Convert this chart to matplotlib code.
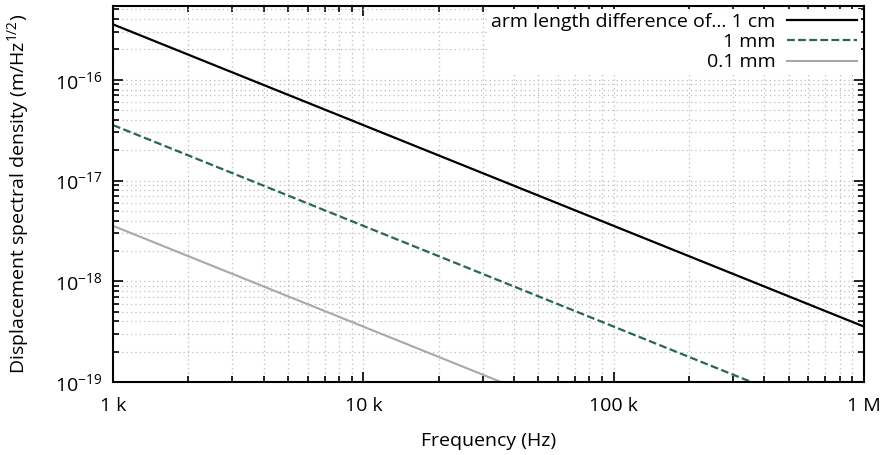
import numpy as np
import matplotlib.pyplot as plt
from matplotlib.ticker import FixedLocator, LogLocator, NullFormatter

# values (slope -1 on log-log)
freq = [1e3, 1e4, 1e5, 1e6]
asd_1cm = [3.55e-16, 3.55e-17, 3.55e-18, 3.55e-19]
asd_1mm = [3.55e-17, 3.55e-18, 3.55e-19, 3.55e-20]
asd_01mm = [3.55e-18, 3.55e-19, 3.55e-20, 3.55e-21]
labels = ["arm length difference of... 1 cm", "1 mm", "0.1 mm"]

xticks = [1e3, 1e4, 1e5, 1e6]
xticklabels = ["1 k", "10 k", "100 k", "1 M"]
yticks = [1e-19, 1e-18, 1e-17, 1e-16]

plt.rcParams['font.family'] = ['Open Sans', 'DejaVu Sans']
plt.rcParams['mathtext.fontset'] = 'custom'
plt.rcParams['mathtext.rm'] = 'Open Sans'

fs = 14
fig = plt.figure(figsize=(8.87, 4.55), dpi=100)
ax = fig.add_axes([0.1274, 0.1604, 0.8466, 0.8264])

ax.plot(freq, asd_1cm, color="black", lw=1.6, label=labels[0])
ax.plot(freq, asd_1mm, color="#2a6652", lw=1.6, ls=(0, (3.5, 1.5)), label=labels[1])
ax.plot(freq, asd_01mm, color="#a8a8a8", lw=1.5, label=labels[2])

ax.set_xscale("log")
ax.set_yscale("log")
ax.set_xlim(1e3, 1e6)
ax.set_ylim(1e-19, 5.4e-16)

ax.xaxis.set_major_locator(FixedLocator(xticks))
ax.set_xticklabels(xticklabels)
ax.yaxis.set_major_locator(FixedLocator(yticks))
ax.set_yticklabels([r"$\mathregular{10^{%d}}$" % int(np.log10(v)) for v in yticks])
ax.xaxis.set_minor_locator(LogLocator(base=10, subs=np.arange(2, 10), numticks=20))
ax.yaxis.set_minor_locator(LogLocator(base=10, subs=np.arange(2, 10), numticks=20))
ax.xaxis.set_minor_formatter(NullFormatter())
ax.yaxis.set_minor_formatter(NullFormatter())

ax.tick_params(which="both", direction="in", top=True, right=True, labelsize=fs, color="black")
ax.tick_params(which="major", length=7, width=1.2)
ax.tick_params(which="minor", length=4, width=1.2)
ax.tick_params(axis="x", which="major", pad=11)
ax.tick_params(axis="y", which="major", pad=8)
for s in ax.spines.values():
    s.set_linewidth(1.5)

ax.grid(which="both", color="#bdbdbd", ls=(0, (1, 2.5)), lw=0.9)

ax.set_xlabel("Frequency (Hz)", fontsize=fs, labelpad=12)
ax.set_ylabel(r"Displacement spectral density (m/Hz$^{1/2}$)", fontsize=fs, labelpad=16)

leg = ax.legend(loc="upper right", markerfirst=False, fontsize=fs, frameon=True,
                fancybox=False, edgecolor="none", facecolor="white", framealpha=1,
                handlelength=3.6, handletextpad=0.6, labelspacing=0.12,
                borderaxespad=0.15, borderpad=0.2)

fig.savefig("out.png", dpi=100)
